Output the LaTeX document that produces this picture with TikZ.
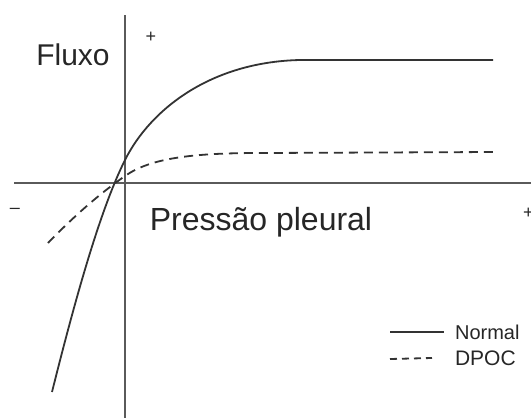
\documentclass[tikz,border=0pt]{standalone}
\usepackage{fontspec}
\setmainfont{Liberation Sans}
\definecolor{axisgray}{HTML}{5A5A5A}
\definecolor{curvegray}{HTML}{333333}
\definecolor{textgray}{HTML}{262626}
\begin{document}
\begin{tikzpicture}[x=0.5pt, y=-0.5pt, text=textgray,
  axis/.style={draw=axisgray, line width=1.3pt},
  normalcurve/.style={draw=curvegray, line width=0.9pt},
  dpoccurve/.style={draw=curvegray, line width=0.9pt, dash pattern=on 4.5pt off 3pt},
  sign/.style={inner sep=0pt, font=\fontsize{9}{9}\selectfont}]
\useasboundingbox (0, 0) rectangle (531, 418);
%Axes
\coordinate (ytop) at (125, 15);
\coordinate (ybot) at (125, 418);
\coordinate (xleft) at (14, 183);
\coordinate (xright) at (531, 183);
\draw[axis] (ytop) -- (ybot);
\draw[axis] (xleft) -- (xright);
\node[sign] (plusy) at (151, 37) {+};
\node[sign] (minusx) at (15, 211) {--};
\node[sign, anchor=east] (plusx) at (534, 213) {+};
\node (fluxo) at (73, 55) {\fontsize{15}{15}\selectfont Fluxo};
\node (pressao) at (261, 222) {\fontsize{16}{16}\selectfont Pressão pleural};
%Curves
\coordinate (normalcut) at (125, 160);
\coordinate (dpoccut) at (125, 176);
\draw[normalcurve] (52, 392) .. controls (75, 300) and (100, 210) .. (normalcut)
  .. controls (150, 110) and (210, 62) .. (300, 60) -- (493, 60);
\draw[dpoccurve] (48, 243) .. controls (80, 210) and (105, 190) .. (dpoccut)
  .. controls (150, 158.5) and (190, 153) .. (260, 153) -- (495, 152);
%Legend
\node[anchor=west] (normal) at (448, 332) {\fontsize{10}{10}\selectfont Normal};
\node[anchor=west] (dpoc) at (448, 358) {\fontsize{10.5}{10.5}\selectfont DPOC};
\coordinate (normalfrom) at (390, 332);
\coordinate (dpocfrom) at (390, 359);
\draw[normalcurve] (normalfrom) -- ([xshift=-2pt]normal.west);
\draw[curvegray, line width=0.9pt, dash pattern=on 3.5pt off 2.5pt] (dpocfrom) -- ([xshift=-8pt]dpoc.west);
\end{tikzpicture}
\end{document}
